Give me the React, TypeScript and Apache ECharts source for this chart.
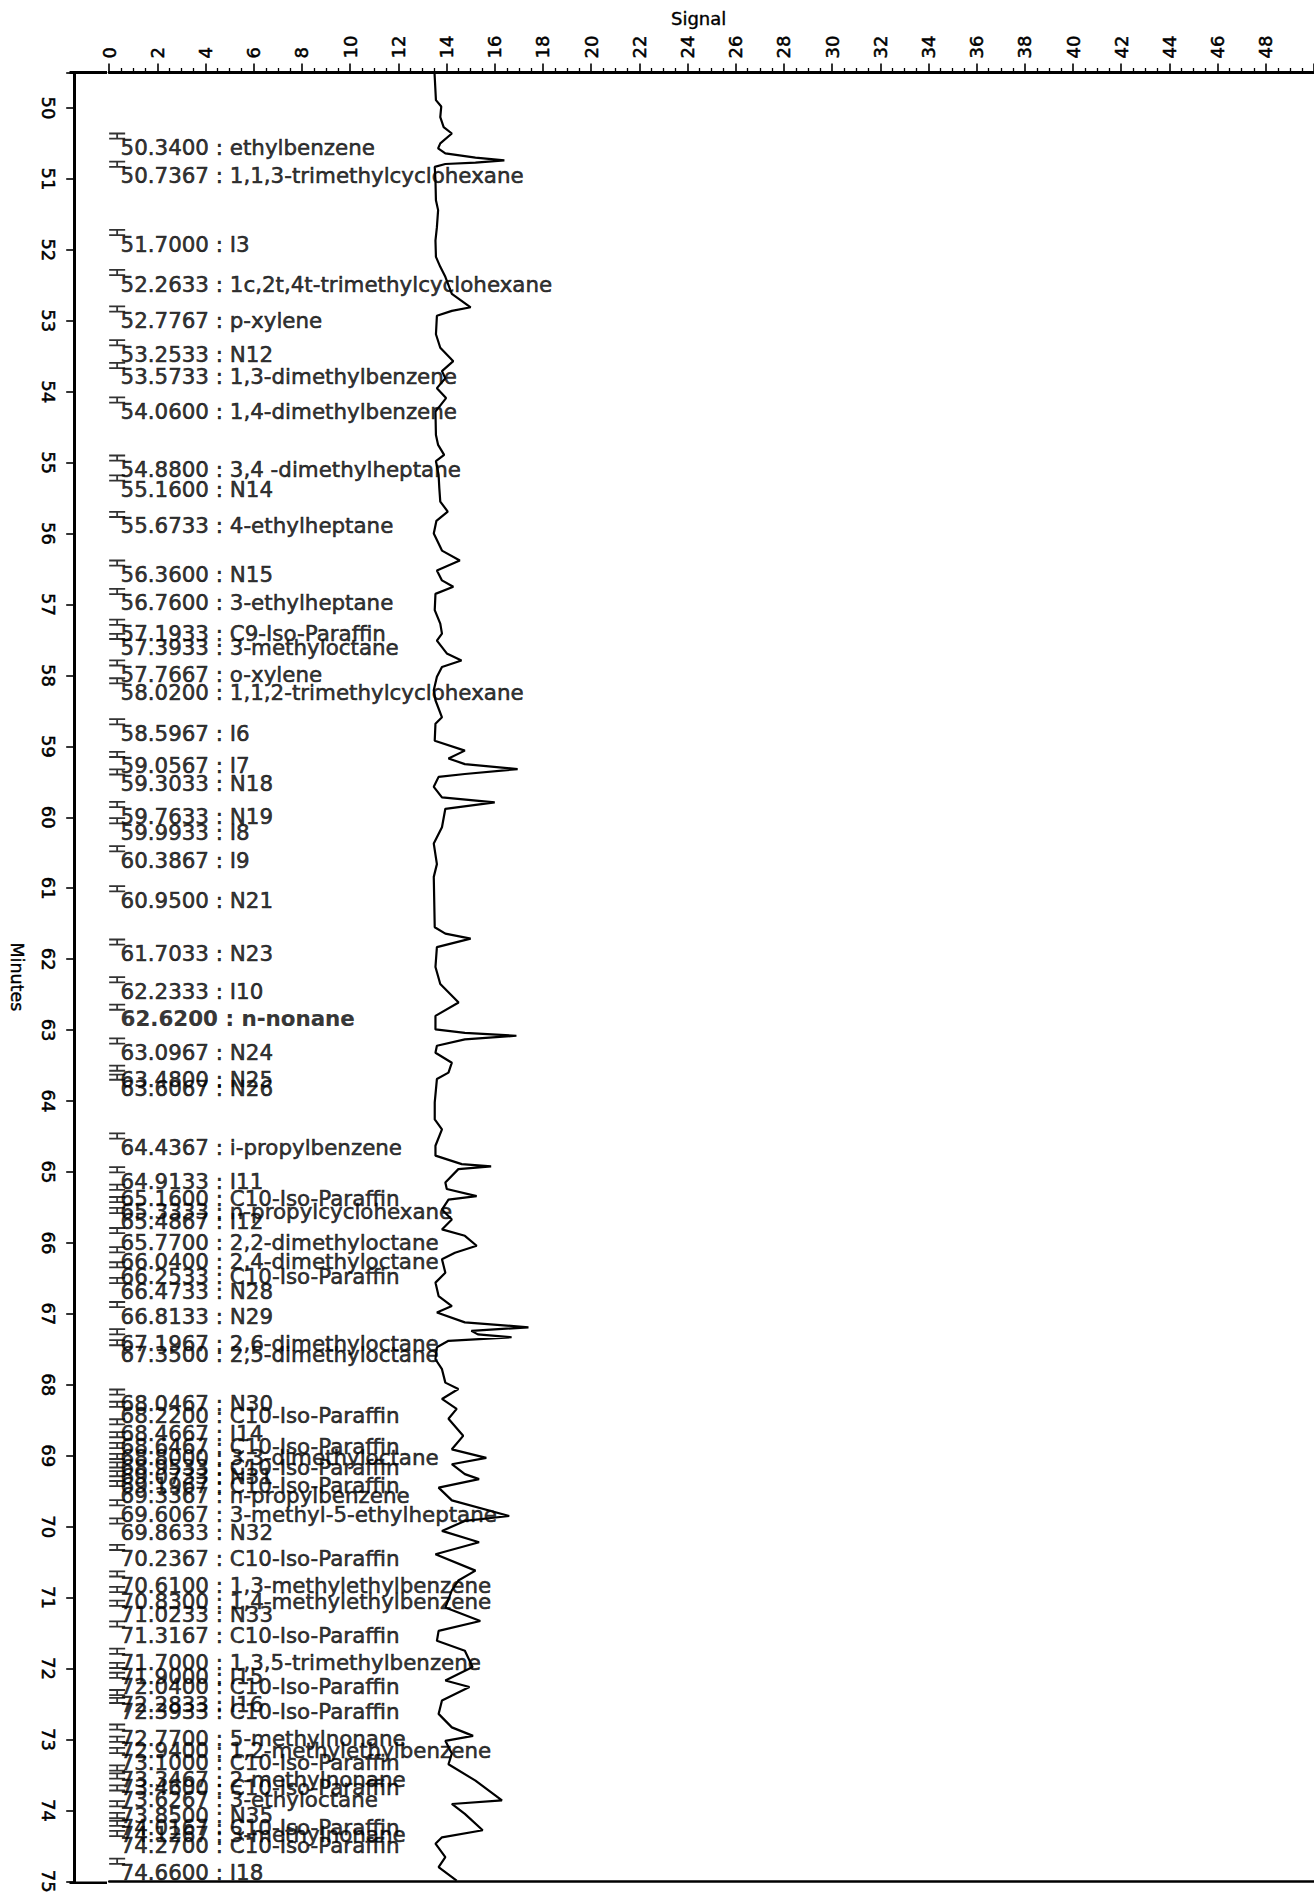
import React, { useEffect, useRef } from "react";
import * as echarts from "echarts";

// Chromatogram trace (retention time in minutes, signal)
const curveMinutes = [
  49.5, 49.89, 49.98, 50.13, 50.27, 50.36, 50.5, 50.57, 50.64, 50.7, 50.74, 50.77, 50.79, 50.83,
  51.02, 51.3, 51.44, 51.68, 51.87, 52.1, 52.24, 52.38, 52.62, 52.81, 52.86, 52.93, 53.19, 53.38,
  53.57, 53.71, 53.81, 53.95, 54.09, 54.28, 54.61, 54.75, 54.89, 54.98, 55.17, 55.36, 55.55, 55.69,
  55.82, 56.0, 56.24, 56.38, 56.52, 56.66, 56.75, 56.85, 57.08, 57.27, 57.41, 57.51, 57.69, 57.79,
  57.88, 58.02, 58.21, 58.35, 58.59, 58.68, 58.92, 59.06, 59.17, 59.25, 59.32, 59.39, 59.43, 59.57,
  59.72, 59.79, 59.88, 60.14, 60.37, 60.66, 60.84, 61.55, 61.64, 61.71, 61.83, 62.11, 62.35, 62.61,
  62.8, 62.99, 63.04, 63.08, 63.13, 63.22, 63.32, 63.46, 63.6, 63.69, 64.02, 64.26, 64.4, 64.63,
  64.77, 64.89, 64.92, 64.96, 65.15, 65.24, 65.34, 65.39, 65.53, 65.67, 65.81, 65.9, 66.04, 66.14,
  66.23, 66.42, 66.56, 66.75, 66.89, 66.98, 67.12, 67.19, 67.24, 67.29, 67.33, 67.38, 67.47, 67.64,
  67.78, 67.97, 68.06, 68.2, 68.34, 68.48, 68.72, 68.91, 69.03, 69.12, 69.26, 69.33, 69.45, 69.63,
  69.85, 69.92, 70.06, 70.22, 70.39, 70.62, 70.76, 70.9, 71.14, 71.33, 71.47, 71.61, 71.75, 71.98,
  72.17, 72.26, 72.45, 72.64, 72.83, 72.95, 73.02, 73.2, 73.35, 73.58, 73.86, 73.91, 74.05, 74.28,
  74.38, 74.47, 74.66, 74.8, 74.99,
];
const curveSignal = [
  13.5, 13.56, 13.78, 13.74, 13.88, 14.22, 13.74, 13.65, 13.95, 15.2, 16.4, 15.2, 13.95, 13.51,
  13.54, 13.56, 13.65, 13.6, 13.54, 13.56, 13.74, 13.95, 14.22, 15.0, 14.22, 13.6, 13.56, 13.74,
  14.28, 13.81, 13.95, 13.6, 13.98, 13.54, 13.56, 13.65, 13.9, 13.56, 13.67, 13.7, 13.74, 14.05,
  13.58, 13.47, 13.81, 14.55, 13.6, 13.81, 14.28, 13.54, 13.51, 13.74, 13.81, 13.6, 14.01, 14.62,
  13.81, 13.6, 13.47, 13.54, 13.81, 13.54, 13.51, 14.76, 14.08, 14.76, 16.95, 14.76, 13.67, 13.47,
  13.81, 16.0, 13.95, 13.81, 13.47, 13.6, 13.47, 13.51, 13.95, 15.0, 13.6, 13.54, 13.74, 14.5,
  13.54, 13.54, 14.76, 16.9, 14.76, 13.6, 13.54, 14.22, 14.08, 13.6, 13.51, 13.51, 13.81, 13.54,
  13.54, 14.63, 15.85, 14.49, 13.95, 14.01, 15.25, 14.08, 13.81, 14.22, 13.81, 14.76, 15.25, 14.35,
  13.81, 13.95, 13.54, 13.67, 14.22, 13.6, 14.76, 17.4, 15.03, 15.3, 16.7, 14.08, 13.6, 13.54,
  13.81, 13.95, 14.49, 13.81, 14.42, 14.08, 14.69, 14.22, 15.65, 14.22, 14.76, 15.35, 13.67, 14.22,
  16.6, 14.76, 13.81, 15.35, 13.54, 15.2, 14.49, 14.22, 13.95, 15.4, 13.67, 13.6, 14.76, 15.08,
  13.95, 14.95, 13.81, 13.67, 14.22, 15.1, 13.95, 14.22, 14.08, 15.2, 16.3, 14.22, 14.76, 15.5,
  13.81, 13.54, 13.95, 13.67, 14.42,
];

// Identified peaks
const peakTimes = [
  50.34, 50.7367, 51.7, 52.2633, 52.7767, 53.2533, 53.5733, 54.06, 54.88, 55.16, 55.6733, 56.36,
  56.76, 57.1933, 57.3933, 57.7667, 58.02, 58.5967, 59.0567, 59.3033, 59.7633, 59.9933, 60.3867,
  60.95, 61.7033, 62.2333, 62.62, 63.0967, 63.48, 63.6067, 64.4367, 64.9133, 65.16, 65.3333,
  65.4867, 65.77, 66.04, 66.2533, 66.4733, 66.8133, 67.1967, 67.35, 68.0467, 68.22, 68.4667,
  68.6467, 68.8, 68.9533, 69.0733, 69.1967, 69.3367, 69.6067, 69.8633, 70.2367, 70.61, 70.83,
  71.0233, 71.3167, 71.7, 71.9, 72.04, 72.2833, 72.3933, 72.77, 72.94, 73.1, 73.3467, 73.46,
  73.6267, 73.85, 74.0167, 74.1267, 74.27, 74.66,
];
const peakNames = [
  "ethylbenzene", "1,1,3-trimethylcyclohexane", "I3", "1c,2t,4t-trimethylcyclohexane", "p-xylene",
  "N12", "1,3-dimethylbenzene", "1,4-dimethylbenzene", "3,4 -dimethylheptane", "N14",
  "4-ethylheptane", "N15", "3-ethylheptane", "C9-Iso-Paraffin", "3-methyloctane", "o-xylene",
  "1,1,2-trimethylcyclohexane", "I6", "I7", "N18", "N19", "I8", "I9", "N21", "N23", "I10",
  "n-nonane", "N24", "N25", "N26", "i-propylbenzene", "I11", "C10-Iso-Paraffin",
  "n-propylcyclohexane", "I12", "2,2-dimethyloctane", "2,4-dimethyloctane", "C10-Iso-Paraffin",
  "N28", "N29", "2,6-dimethyloctane", "2,5-dimethyloctane", "N30", "C10-Iso-Paraffin", "I14",
  "C10-Iso-Paraffin", "3,3-dimethyloctane", "C10-Iso-Paraffin", "N31", "C10-Iso-Paraffin",
  "n-propylbenzene", "3-methyl-5-ethylheptane", "N32", "C10-Iso-Paraffin",
  "1,3-methylethylbenzene", "1,4-methylethylbenzene", "N33", "C10-Iso-Paraffin",
  "1,3,5-trimethylbenzene", "I15", "C10-Iso-Paraffin", "I16", "C10-Iso-Paraffin",
  "5-methylnonane", "1,2-methylethylbenzene", "C10-Iso-Paraffin", "2-methylnonane",
  "C10-Iso-Paraffin", "3-ethyloctane", "N35", "C10-Iso-Paraffin", "3-methylnonane",
  "C10-Iso-Paraffin", "I18",
];
const highlightedPeak = "n-nonane";

const FONT = "DejaVu Sans";
const MARKER =
  "path://M0,0H16V1.8H0Z M0,5.2H16V7H0Z M7.1,0H8.9V7H7.1Z";

export default function App() {
  const ref = useRef<HTMLDivElement>(null);

  useEffect(() => {
    if (!ref.current) return;
    const chart = echarts.init(ref.current, null, { renderer: "svg" });

    const GRID_LEFT = 106;
    const GRID_TOP = 72.5;
    const GRID_BOTTOM_Y = 1882.7;
    const AXIS_X = 71;

    const curveData = curveMinutes.map((m, i) => [curveSignal[i], m]);
    const markerData = peakTimes.map((t) => [0.33, t]);
    const labelData = peakTimes.map((t, i) => ({
      value: [0.47, t],
      name: peakNames[i],
      label: peakNames[i] === highlightedPeak ? { fontWeight: "bold", textBorderWidth: 0.2 } : undefined,
    }));

    const tickFont = {
      fontFamily: FONT,
      fontSize: 18,
      color: "#000",
      textBorderColor: "#000",
      textBorderWidth: 0.5,
    };

    chart.setOption({
      animation: false,
      backgroundColor: "#fff",
      grid: {
        left: GRID_LEFT,
        right: -20.5,
        top: GRID_TOP,
        bottom: 1896 - GRID_BOTTOM_Y,
        containLabel: false,
      },
      xAxis: [
        {
          type: "value",
          position: "top",
          min: 0,
          max: 50,
          interval: 2,
          name: "Signal",
          nameLocation: "middle",
          nameGap: 38,
          nameTextStyle: {
            fontFamily: FONT,
            fontSize: 18,
            color: "#000",
            padding: [0, 26, 0, 0],
            textBorderColor: "#000",
            textBorderWidth: 0.4,
          },
          axisLine: { show: true, onZero: false, lineStyle: { color: "#000", width: 3 } },
          axisTick: { show: true, length: 9, lineStyle: { color: "#000", width: 1.6 } },
          minorTick: { show: true, splitNumber: 4, length: 4.5, lineStyle: { color: "#000", width: 1.3 } },
          axisLabel: {
            rotate: -90,
            margin: 14,
            showMaxLabel: false,
            ...tickFont,
          },
          splitLine: { show: false },
          minorSplitLine: { show: false },
        },
        {
          type: "value",
          position: "bottom",
          min: 0,
          max: 50,
          axisLine: { show: true, onZero: false, lineStyle: { color: "#000", width: 2.5 } },
          axisTick: { show: false },
          axisLabel: { show: false },
          splitLine: { show: false },
        },
      ],
      yAxis: {
        type: "value",
        inverse: true,
        min: 49.5,
        max: 75,
        splitNumber: 25,
        position: "left",
        offset: GRID_LEFT - AXIS_X,
        name: "Minutes",
        nameLocation: "middle",
        nameRotate: -90,
        nameGap: 48,
        nameTextStyle: {
          fontFamily: FONT,
          fontSize: 17.5,
          color: "#000",
          textBorderColor: "#000",
          textBorderWidth: 0.4,
        },
        axisLine: { show: true, onZero: false, lineStyle: { color: "#000", width: 3 } },
        axisTick: { show: true, length: 8, lineStyle: { color: "#000", width: 1.6 } },
        axisLabel: {
          rotate: -90,
          margin: 17,
          formatter: (v: number) => (Number.isInteger(v) ? String(v) : ""),
          ...tickFont,
        },
        splitLine: { show: false },
      },
      graphic: [
        {
          type: "line",
          shape: { x1: AXIS_X - 1.5, y1: GRID_TOP, x2: GRID_LEFT + 1, y2: GRID_TOP },
          style: { stroke: "#000", lineWidth: 3 },
        },
        {
          type: "line",
          shape: { x1: AXIS_X - 1.5, y1: GRID_BOTTOM_Y, x2: GRID_LEFT + 1, y2: GRID_BOTTOM_Y },
          style: { stroke: "#000", lineWidth: 2.5 },
        },
      ],
      series: [
        {
          type: "line",
          data: curveData,
          xAxisIndex: 0,
          yAxisIndex: 0,
          symbol: "none",
          lineStyle: { color: "#000", width: 2.2 },
          silent: true,
          z: 3,
        },
        {
          type: "scatter",
          data: markerData,
          xAxisIndex: 0,
          yAxisIndex: 0,
          symbol: MARKER,
          symbolSize: [16, 7],
          symbolOffset: [0, 4],
          itemStyle: { color: "#000" },
          silent: true,
          z: 4,
        },
        {
          type: "scatter",
          data: labelData,
          xAxisIndex: 0,
          yAxisIndex: 0,
          symbol: "rect",
          symbolSize: 1,
          itemStyle: { color: "rgba(0,0,0,0)" },
          silent: true,
          z: 5,
          label: {
            show: true,
            position: [0.5, 5.5],
            align: "left",
            verticalAlign: "top",
            fontFamily: FONT,
            fontSize: 21.4,
            color: "#000",
            textBorderColor: "#000",
            textBorderWidth: 0.6,
            formatter: (p: any) => `${Number(p.value[1]).toFixed(4)} : ${p.name}`,
          },
          labelLayout: { hideOverlap: false },
        },
      ],
    });

    return () => chart.dispose();
  }, []);

  return (
    <div
      ref={ref}
      style={{ position: "absolute", left: 0, top: 0, width: 1314, height: 1896 }}
    />
  );
}
